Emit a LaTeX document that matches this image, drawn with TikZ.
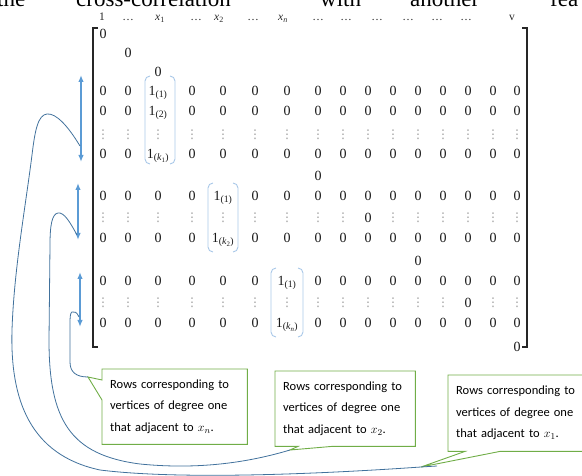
\documentclass[tikz,border=0pt]{standalone}
\usepackage{fontspec}
\setmainfont{Liberation Serif}
\newfontfamily\notefont{Carlito}
\newfontfamily\dotfont{DejaVu Sans}
\usetikzlibrary{arrows.meta}

\definecolor{rowblue}{HTML}{5B9BD5}
\definecolor{linkblue}{HTML}{41719C}
\definecolor{notegreen}{HTML}{70AD47}
\definecolor{parenblue}{HTML}{A9C8E8}

\tikzset{
  entry/.style={inner sep=0pt,anchor=base,text=black!90,font=\fontsize{14}{16}\selectfont},
  vdot/.style={inner sep=0pt,text=black!40,font=\dotfont\fontsize{12}{14}\selectfont},
  colhead/.style={inner sep=0pt,anchor=base,text=black!85,font=\fontsize{11.5}{13}\selectfont},
  topword/.style={anchor=base west,inner sep=0pt,font=\fontsize{23}{25}\selectfont},
  noteline/.style={draw=notegreen,line width=0.9pt},
  notebox/.style={anchor=north west,inner xsep=8pt,inner ysep=0pt,minimum height=75pt,align=left,font=\notefont\fontsize{12.5}{21.5}\selectfont},
  rowspan/.style={rowblue,line width=1.4pt,{Latex[length=7pt,width=5.5pt]}-{Latex[length=7pt,width=5.5pt]}},
  link/.style={linkblue,line width=0.8pt},
  blockparen/.style={parenblue,line width=0.9pt,rounded corners=5pt},
  mbracket/.style={black!85,line width=1.7pt},
}

\begin{document}
\begin{tikzpicture}[x=1pt,y=-1pt]
\useasboundingbox (0,0) rectangle (582,476);

\node[topword] (w1) at (-3,7) {the};
\node[topword] (w2) at (76,7) {cross-correlation};
\node[topword] (w3) at (320,7) {with};
\node[topword] (w4) at (410,7) {another};
\node[topword] (w5) at (550,7) {fea};

\foreach \x/\lab [count=\i] in {102/1,128/\ldots,160/\textit{x}\textsubscript{1},196/\ldots,219/\textit{x}\textsubscript{2},
  253/\ldots,283/\textit{x}\textsubscript{\textit{n}},318/\ldots,346/\ldots,377/\ldots,408/\ldots,437/\ldots,466/\ldots,512/v}
  \node[colhead] (h\i) at (\x,21) {\lab};

\draw[mbracket] (98,28) -- (93,28) -- (93,347) -- (98,347);
\draw[mbracket] (522,28) -- (527,28) -- (527,347) -- (522,347);

\foreach \x/\y [count=\i] in {103/34,128/53,158/72,318/176,418/261,517/347}
  \node[entry] (d\i) at (\x,\y+4.7) {0};

\foreach \y/\k/\ent in {91/2/1\textsubscript{(1)},111/2/1\textsubscript{(2)},154/2/1\textsubscript{(\textit{k}\textsubscript{1})},
  196/4/1\textsubscript{(1)},238/4/1\textsubscript{(\textit{k}\textsubscript{2})},
  281/6/1\textsubscript{(1)},323/6/1\textsubscript{(\textit{k}\textsubscript{\textit{n}})}}
  \foreach \x [count=\c from 0] in {103,128,158,192,223,255,287,318,343,368,393,418,443,468,493,517}
    {\ifnum\c=\k \node[entry] (e\y-\c) at (\x,\y+4.7) {\ent};
     \else \node[entry] (e\y-\c) at (\x,\y+4.7) {0}; \fi}

\foreach \y/\k in {135/-1,218/9,303/13}
  \foreach \x [count=\c from 0] in {103,128,158,192,223,255,287,318,343,368,393,418,443,468,493,517}
    {\ifnum\c=\k \node[entry] (e\y-\c) at (\x,\y+4.7) {0};
     \else \node[vdot] (e\y-\c) at (\x,\y) {⋮}; \fi}

\draw[blockparen] (150,76) -- (145,76) -- (145,164) -- (150,164);
\draw[blockparen] (170,76) -- (175,76) -- (175,164) -- (170,164);
\draw[blockparen] (213,183) -- (208,183) -- (208,252) -- (213,252);
\draw[blockparen] (233,183) -- (238,183) -- (238,252) -- (233,252);
\draw[blockparen] (276,268) -- (271,268) -- (271,337) -- (276,337);
\draw[blockparen] (298,268) -- (303,268) -- (303,337) -- (298,337);

\coordinate (a1t) at (81,75);
\coordinate (a1b) at (81,162);
\coordinate (a2t) at (78,183);
\coordinate (a2b) at (78,240);
\coordinate (a3t) at (80,272);
\coordinate (a3b) at (80,327);
\draw[rowspan] (a1t) -- (a1b);
\draw[rowspan] (a2t) -- (a2b);
\draw[rowspan] (a3t) -- (a3b);

\node[notebox,text width=129pt] (noten) at (102,369) {Rows corresponding to\\vertices of degree one\\that adjacent to $x_n$.};
\node[notebox,text width=124pt] (note2) at (275,371) {Rows corresponding to\\vertices of degree one\\that adjacent to $x_2$.};
\node[notebox,text width=124pt,minimum height=76pt] (note1) at (448,375) {Rows corresponding to\\vertices of degree one\\that adjacent to $x_1$.};

\coordinate (tipn) at (88,377);
\coordinate (tip2) at (290,450);
\coordinate (tip1) at (421,467);
\draw[noteline] (noten.north west) -- (noten.north east) -- (noten.south east) -- (noten.south west)
  -- ([yshift=-31pt]noten.north west) -- (tipn) -- ([yshift=-11pt]noten.north west) -- cycle;
\draw[noteline] (note2.south west) -- (note2.north west) -- (note2.north east) -- (note2.south east)
  -- ([xshift=57pt]note2.south west) -- (tip2) -- ([xshift=23pt]note2.south west) -- cycle;
\draw[noteline] (note1.south west) -- (note1.north west) -- (note1.north east) -- (note1.south east)
  -- ([xshift=52pt]note1.south west) -- (tip1) -- ([xshift=17pt]note1.south west) -- cycle;

\coordinate (a1j) at (80,146);
\coordinate (a2j) at (77,235);
\coordinate (a3j) at (79,317);
\draw[link] (a1j) .. controls (68,126) and (56,113) .. (47,114)
  .. controls (38,115) and (35,130) .. (32,155)
  .. controls (25,210) and (14,270) .. (12,330)
  .. controls (10,400) and (30,455) .. (100,470)
  .. controls (180,480) and (320,474) .. (tip1) -- (437,466);
\draw[link] (a2j) .. controls (70,222) and (64,212) .. (58,213)
  .. controls (52,214) and (50,225) .. (50,245) -- (49,340)
  .. controls (49,420) and (70,455) .. (140,464)
  .. controls (200,470) and (250,462) .. (tip2);
\draw[link] (a3j) .. controls (77,312) and (74,311) .. (72,312)
  .. controls (70,313) and (70,318) .. (70,325) -- (70,362)
  .. controls (70,372) and (76,377) .. (tipn);
\end{tikzpicture}
\end{document}
